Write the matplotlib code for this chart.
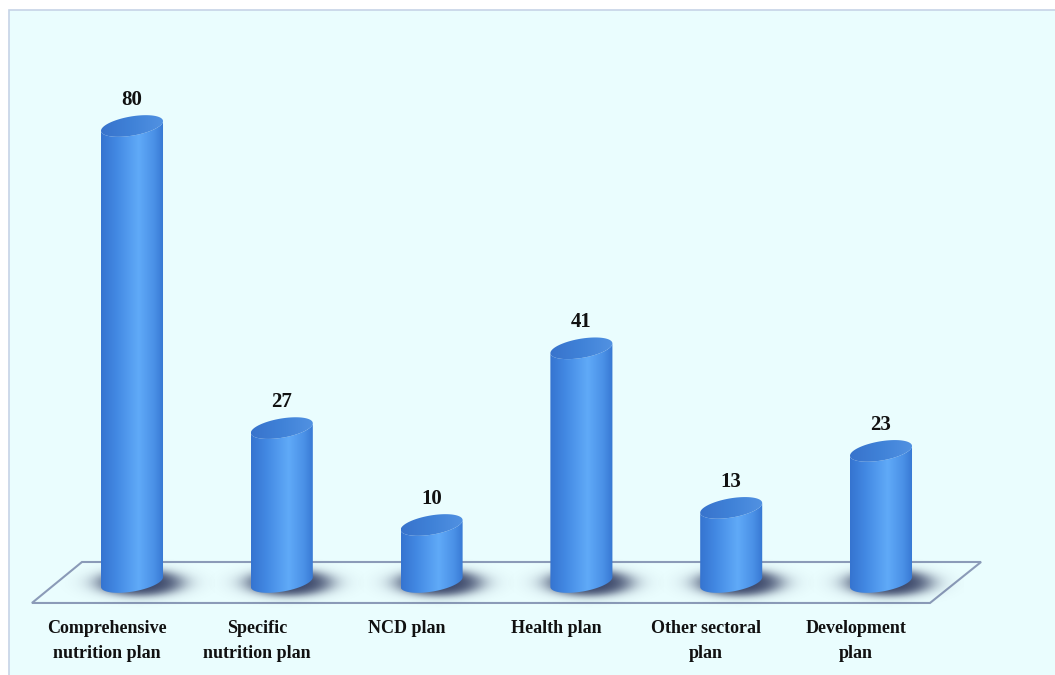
import numpy as np
import matplotlib.pyplot as plt
from matplotlib.patches import Rectangle, Polygon, PathPatch
from matplotlib.path import Path
from matplotlib.colors import LinearSegmentedColormap

categories = ["Comprehensive\nnutrition plan", "Specific\nnutrition plan", "NCD plan",
              "Health plan", "Other sectoral\nplan", "Development\nplan"]
values = [80, 27, 10, 41, 13, 23]

plt.rcParams['font.family'] = ['Liberation Serif', 'DejaVu Serif']

fig = plt.figure(figsize=(10.55, 6.75), dpi=100)
fig.patch.set_facecolor('white')

# light panel behind the chart
panel = Rectangle((9 / 1055, -0.1), 1.1, (675 - 10) / 675 + 0.1, transform=fig.transFigure,
                  facecolor='#eafdfe', edgecolor='#c6d3e6', linewidth=1.2, zorder=-1)
fig.patches.append(panel)

ax = fig.add_axes([57.1 / 1055, (675 - 650.4) / 675, 898.8 / 1055, (650.4 - 69) / 675])
ax.set_xlim(-0.5, 5.5)
ax.set_ylim(-12, 90)
ax.axis('off')
ax.patch.set_alpha(0)

# floor
floor = Polygon([(-0.668, -3.68), (5.327, -3.68), (5.668, 3.51), (-0.334, 3.51)],
                closed=True, facecolor='none', edgecolor='#8b9bb8', linewidth=1.5,
                zorder=1, clip_on=False)
ax.add_patch(floor)

body_cmap = LinearSegmentedColormap.from_list(
    'body', [(0, '#3574d0'), (0.25, '#4389e3'), (0.6, '#60aaf8'), (0.85, '#4a90e6'), (1, '#3677d2')])
top_cmap = LinearSegmentedColormap.from_list('top', ['#3873cc', '#4082d8', '#5292e2'])

a, b, s = 0.207, 1.70, 0.85  # half width, ellipse half height, tilt
t = np.linspace(0, 2 * np.pi, 120)

for i, v in enumerate(values):
    cx = i
    # soft shadow on the floor
    gx = np.linspace(-0.55, 0.55, 220)
    gy = np.linspace(-5, 5, 140)
    X, Y = np.meshgrid(gx, gy)
    r = np.sqrt(((X - 0.05) / 0.36) ** 2 + ((Y + 0.2) / 3.0) ** 2)
    alpha = 0.85 / (1 + np.exp((r - 0.75) / 0.14))
    rgba = np.zeros(X.shape + (4,))
    rgba[..., 0], rgba[..., 1], rgba[..., 2] = 0.10, 0.14, 0.30
    rgba[..., 3] = alpha
    sh = ax.imshow(rgba, extent=(cx - 0.55, cx + 0.55, -5, 5), origin='lower',
                   aspect='auto', interpolation='bilinear', zorder=2)
    sh.set_clip_on(False)

    # cylinder body
    tb = np.linspace(np.pi, 2 * np.pi, 60)
    bottom = np.column_stack([cx + a * np.cos(tb), b * np.sin(tb) + s * np.cos(tb)])
    tt = np.linspace(0, -np.pi, 60)
    front_top = np.column_stack([cx + a * np.cos(tt), v + b * np.sin(tt) + s * np.cos(tt)])
    verts = np.vstack([[cx - a, v - s], bottom, [cx + a, v + s], front_top])
    body = PathPatch(Path(verts), facecolor='none', edgecolor='none')
    ax.add_patch(body)
    grad = np.linspace(0, 1, 256).reshape(1, -1)
    im = ax.imshow(grad, extent=(cx - a, cx + a, -b - s - 1, v + b + s), cmap=body_cmap,
                   aspect='auto', origin='lower', zorder=3)
    im.set_clip_path(body)

    # top ellipse
    top_verts = np.column_stack([cx + a * np.cos(t), v + b * np.sin(t) + s * np.cos(t)])
    top = Polygon(top_verts, closed=True, facecolor='none', edgecolor='none')
    ax.add_patch(top)
    im2 = ax.imshow(grad, extent=(cx - a, cx + a, v - b - s, v + b + s), cmap=top_cmap,
                    aspect='auto', origin='lower', zorder=4)
    im2.set_clip_path(top)

    ax.annotate(str(v), (cx, v), xytext=(0, 15), textcoords='offset points',
                ha='center', va='baseline', fontsize=15, fontweight='bold', color='#111111', zorder=5)

    ax.text(cx - 0.167, -6.7, categories[i], ha='center', va='top', fontsize=13,
            fontweight='bold', color='#111111', linespacing=1.6, multialignment='center')

fig.savefig('out.png', dpi=100)
